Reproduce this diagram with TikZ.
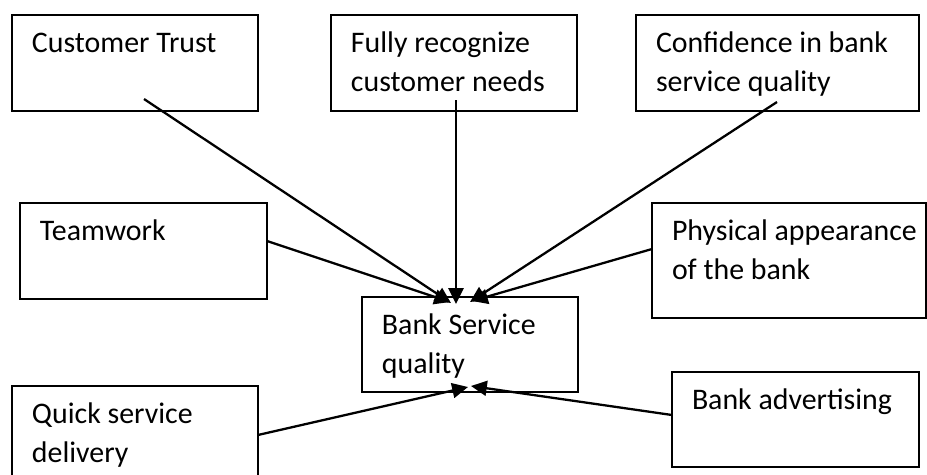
\documentclass[tikz,border=0pt]{standalone}
\usepackage{fontspec}
\setmainfont{Carlito}
\usetikzlibrary{arrows.meta}

\begin{document}
\begin{tikzpicture}
        [x=0.02cm, y=-0.02cm,
        box/.style={draw, line width=1.2pt, outer sep=0pt, anchor=north west,
            inner xsep=0.4cm, inner ysep=0pt, align=flush left, text height=0.76cm,
            font={\fontsize{17}{21.9}\selectfont}},
        arr/.style={line width=1.3pt, -{Triangle[length=9pt, width=8.5pt]}}]
        
        \useasboundingbox (0,0) rectangle (927,474);
        
        % Factor boxes
        \node[box, text width=4.12cm, text depth=1.16cm] (trust) at (12,15) {Customer Trust};
        \node[box, text width=4.12cm, text depth=1.16cm] (needs) at (331,15) {Fully recognize\\customer needs};
        \node[box, text width=4.86cm, text depth=1.16cm] (conf) at (636,15) {Confidence in bank\\service quality};
        \node[box, text width=4.14cm, text depth=1.16cm] (team) at (20,203) {Teamwork};
        \node[box, text width=4.68cm, text depth=1.54cm] (phys) at (652,203) {\mbox{Physical appearance}\\of the bank};
        \node[box, text width=4.12cm, text depth=1.20cm] (quick) at (12,386) {Quick service\\delivery};
        \node[box, text width=4.14cm, text depth=1.14cm] (adv) at (672,372) {Bank advertising};
        
        % Central box
        \node[box, text width=3.52cm, text depth=1.14cm] (bsq) at (362,297) {Bank Service\\quality};
        
        % Arrows into the top of the central box
        \draw[arr] ([shift={(132,84)}]trust.north west) -- ([shift={(89,6)}]bsq.north west);
        \draw[arr] ([shift={(0,38)}]team.north east) -- ([shift={(88,5)}]bsq.north west);
        \draw[arr] ([shift={(125,85)}]needs.north west) -- ([shift={(94,7)}]bsq.north west);
        \draw[arr] ([shift={(141,87)}]conf.north west) -- ([shift={(108,5)}]bsq.north west);
        \draw[arr] ([shift={(0,46)}]phys.north west) -- ([shift={(110,4)}]bsq.north west);
        
        % Arrows into the bottom
        \draw[arr] (quick.east) -- ([shift={(106,90)}]bsq.north west);
        \draw[arr] ([shift={(0,43)}]adv.north west) -- ([shift={(109,89)}]bsq.north west);
        
    \end{tikzpicture}
\end{document}
